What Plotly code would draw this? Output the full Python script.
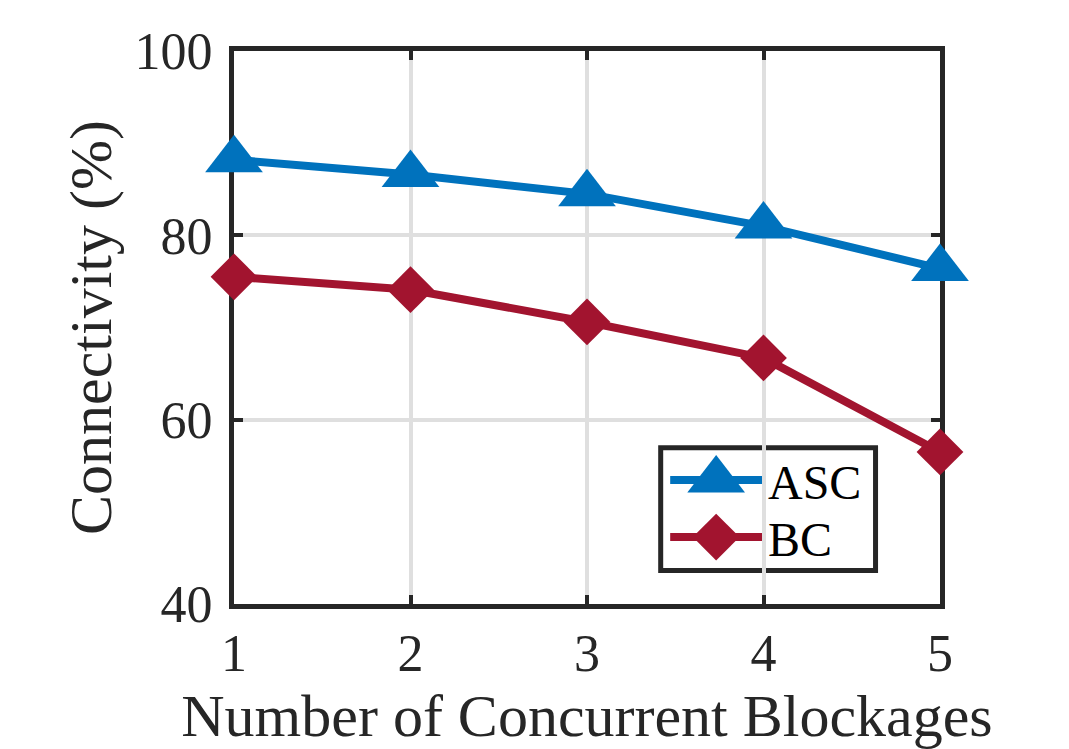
import plotly.graph_objects as go

# ---- data ----
blockages = [1, 2, 3, 4, 5]
asc_values = [88.2, 86.6, 84.5, 81.0, 76.4]
bc_values = [75.5, 74.1, 70.6, 66.7, 56.5]
series_names = ["ASC", "BC"]
x_ticks = [1, 2, 3, 4, 5]
y_ticks = [40, 60, 80, 100]

BLUE = "#0072BD"
RED = "#A2142F"
AX = "#262626"
FONT = "Liberation Serif"

OFF = 8  # default body margin of the html page
W, H = 1069 - OFF, 749 - OFF
L, R, T, B = 233.5, 940, 50.5, 604  # plot area in page pixels


def px(x):
    return (x - L) / (R - L)


def py(y):
    return (B - y) / (B - T)


fig = go.Figure()
fig.add_trace(go.Scatter(
    x=blockages, y=asc_values, name=series_names[0], mode="lines+markers",
    line=dict(color=BLUE, width=8),
    marker=dict(symbol="triangle-up", size=50, color=BLUE),
    cliponaxis=False, showlegend=False))
fig.add_trace(go.Scatter(
    x=blockages, y=bc_values, name=series_names[1], mode="lines+markers",
    line=dict(color=RED, width=8),
    marker=dict(symbol="diamond", size=36, color=RED),
    cliponaxis=False, showlegend=False))

# ---- custom legend (large markers like the original) ----
shapes = []
annotations = []
shapes.append(dict(type="rect", xref="paper", yref="paper",
                   x0=px(660.5), x1=px(875.5), y0=py(447.5), y1=py(570.5),
                   line=dict(color=AX, width=5), fillcolor="white", layer="between"))
leg_rows = [(series_names[0], BLUE, "triangle-up", 50, 480),
            (series_names[1], RED, "diamond", 36, 537)]
for name, col, sym, size, yy in leg_rows:
    shapes.append(dict(type="line", xref="paper", yref="paper",
                       x0=px(670), x1=px(762), y0=py(yy), y1=py(yy),
                       line=dict(color=col, width=8), layer="between"))
    annotations.append(dict(text=name, xref="paper", yref="paper",
                            x=px(766), y=py(yy + 2), xanchor="left", yanchor="middle",
                            showarrow=False, font=dict(family=FONT, size=48, color="black")))
    fig.add_trace(go.Scatter(x=[px(716)], y=[py(yy)], xaxis="x2", yaxis="y2",
                             mode="markers", marker=dict(symbol=sym, size=size, color=col),
                             showlegend=False, hoverinfo="skip", cliponaxis=False))

fig.update_layout(
    width=W, height=H,
    margin=dict(l=L - OFF, r=(W + OFF) - R, t=T - OFF, b=(H + OFF) - B, pad=0),
    paper_bgcolor="white", plot_bgcolor="white",
    font=dict(family=FONT, color=AX),
    showlegend=False,
    shapes=shapes, annotations=annotations,
    xaxis=dict(range=[1, 5], tickvals=x_ticks, ticktext=[str(v) for v in x_ticks],
               showgrid=True, gridcolor="#dfdfdf", gridwidth=4,
               showline=True, linecolor=AX, linewidth=5, mirror="ticks",
               ticks="inside", ticklen=9, tickwidth=4, tickcolor=AX,
               tickfont=dict(family=FONT, size=52, color=AX),
               ticklabelstandoff=0,
               zeroline=False, layer="below traces",
               title=dict(text="Number of Concurrent Blockages",
                          font=dict(family=FONT, size=60, color=AX), standoff=14)),
    yaxis=dict(range=[40, 100], tickvals=y_ticks, ticktext=[str(v) for v in y_ticks],
               showgrid=True, gridcolor="#dfdfdf", gridwidth=4,
               showline=True, linecolor=AX, linewidth=5, mirror="ticks",
               ticks="inside", ticklen=9, tickwidth=4, tickcolor=AX,
               tickfont=dict(family=FONT, size=52, color=AX),
               ticklabelstandoff=6,
               zeroline=False, layer="below traces",
               title=dict(text="Connectivity (%)",
                          font=dict(family=FONT, size=60, color=AX), standoff=5)),
    xaxis2=dict(domain=[0, 1], range=[0, 1], overlaying="x", visible=False, fixedrange=True),
    yaxis2=dict(domain=[0, 1], range=[0, 1], overlaying="y", visible=False, fixedrange=True),
)

fig.write_html("out.html")
